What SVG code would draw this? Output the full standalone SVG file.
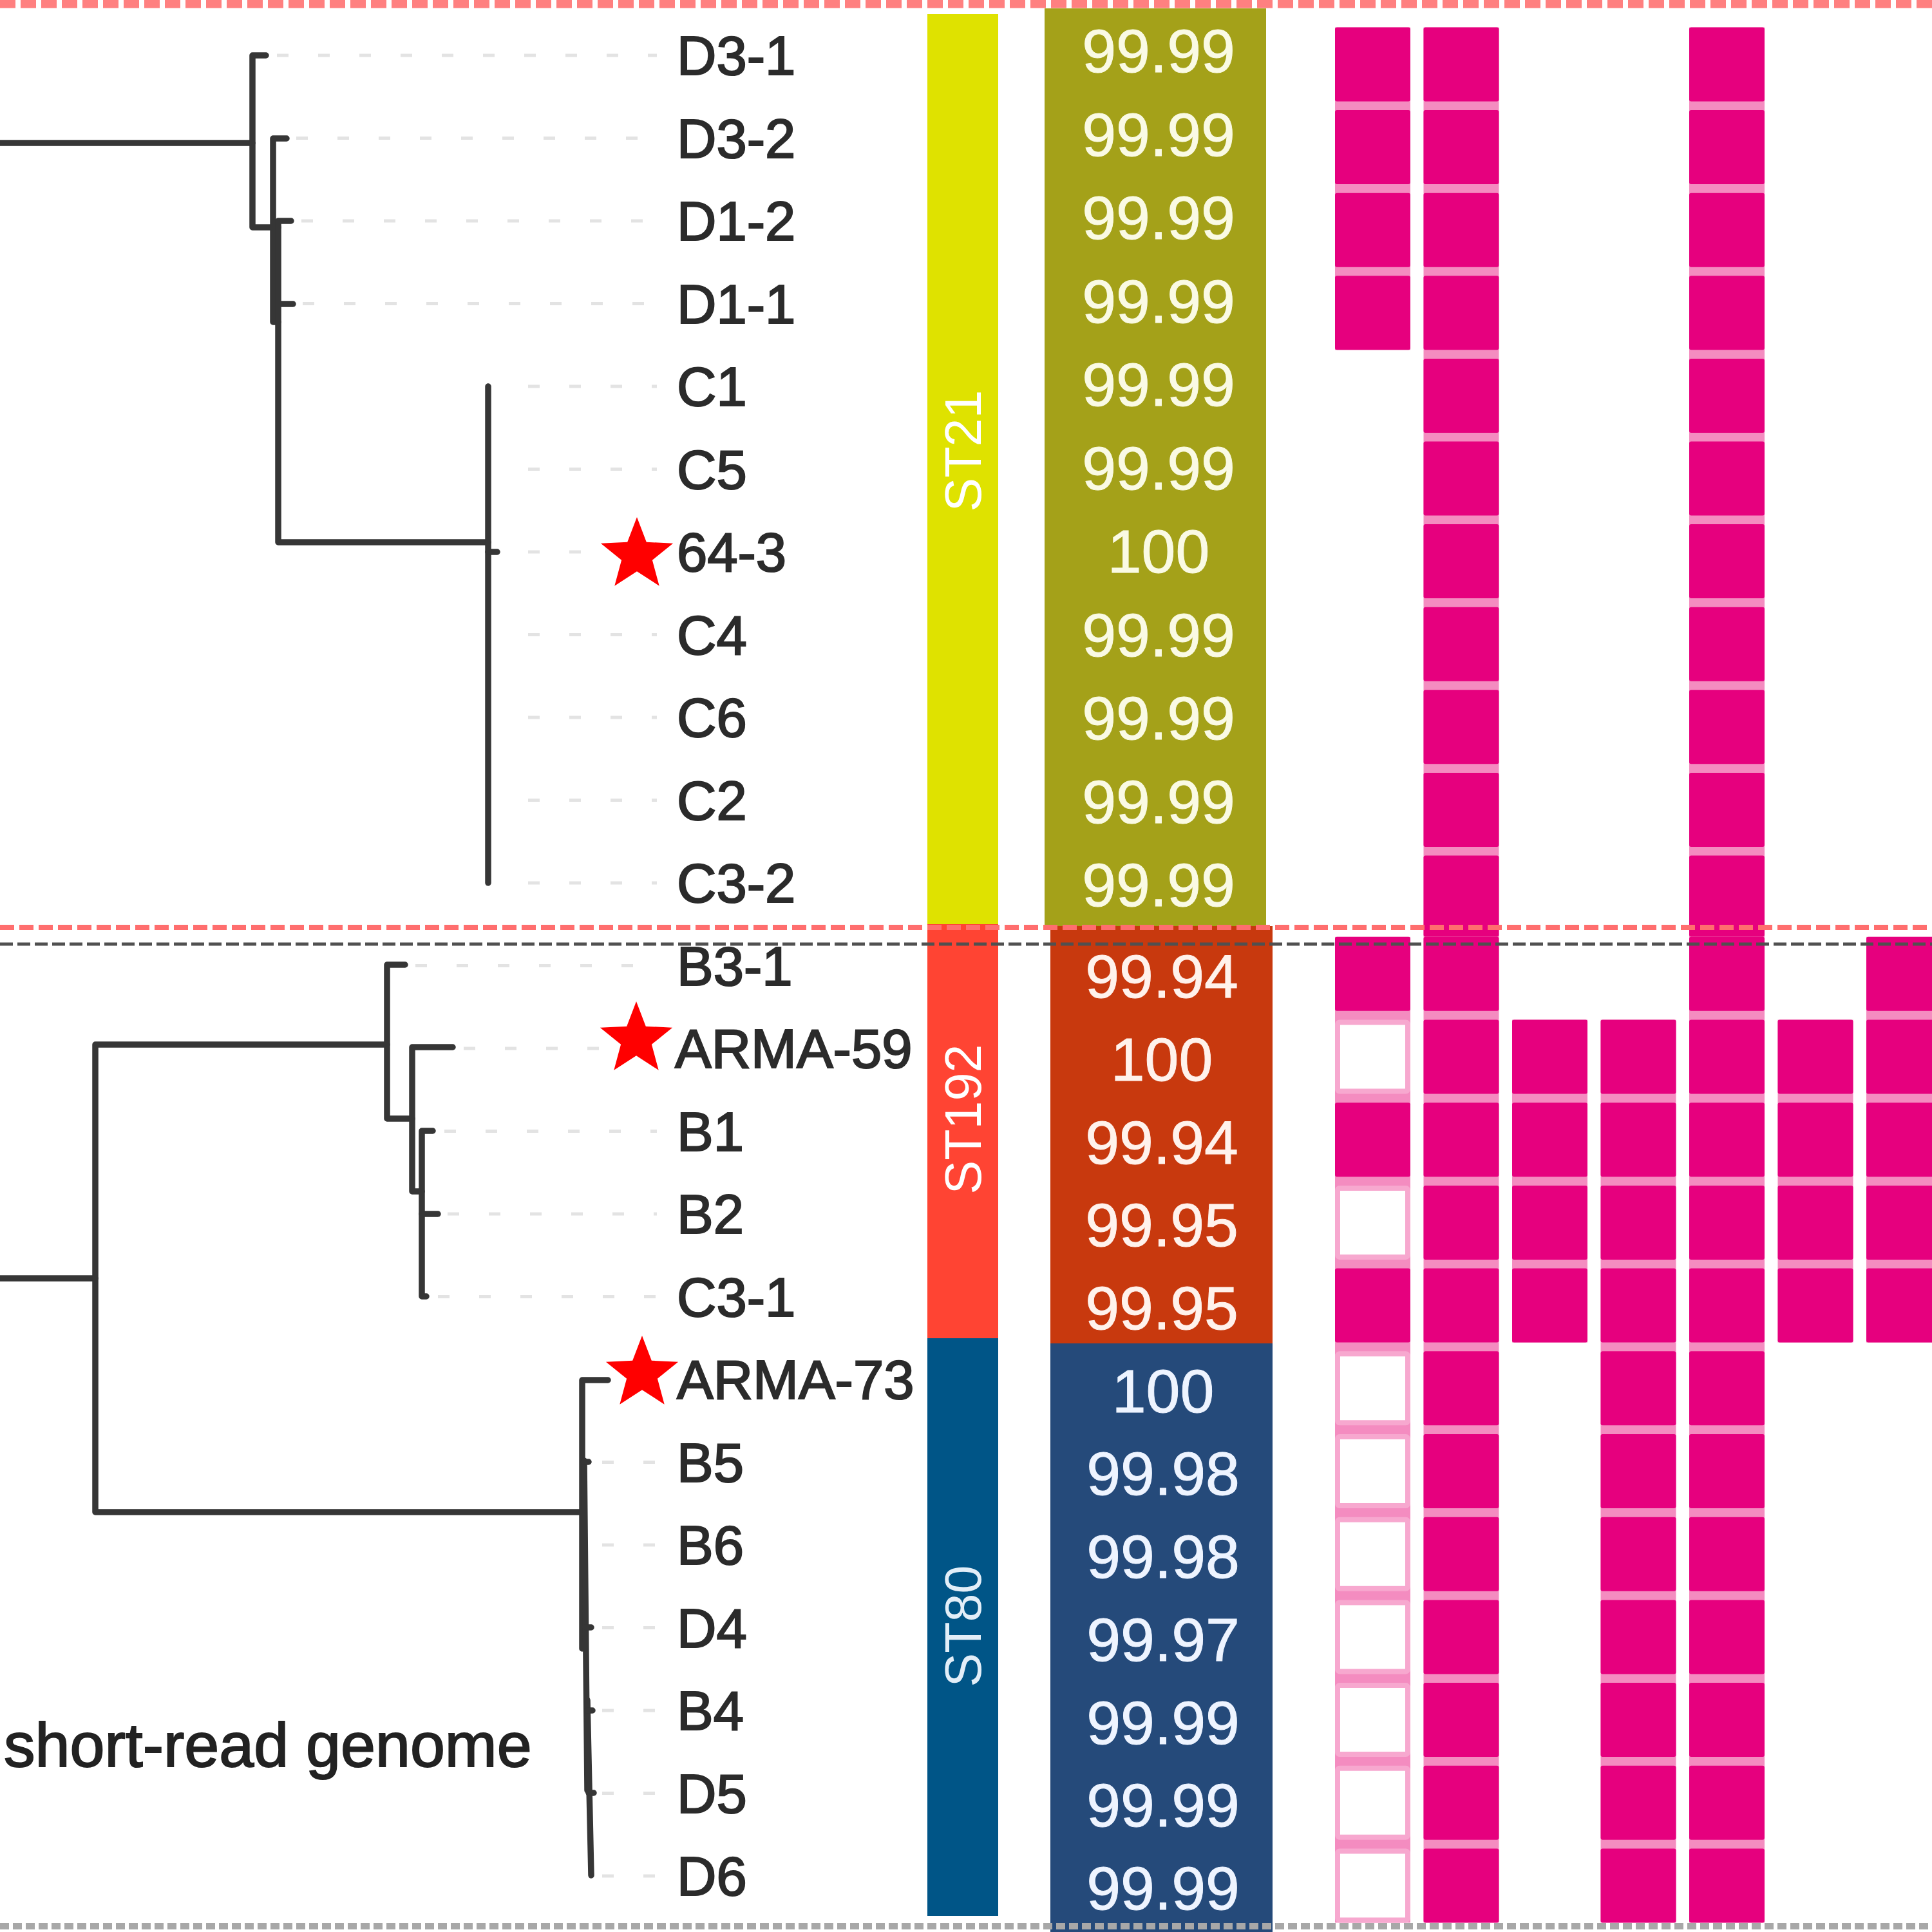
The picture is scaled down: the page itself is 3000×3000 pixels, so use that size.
<svg xmlns="http://www.w3.org/2000/svg" xmlns:xlink="http://www.w3.org/1999/xlink" width="3000" height="3000" viewBox="0 0 3000 3000">
<style>
.br{fill:none;stroke:#363636;stroke-width:9.5;stroke-linecap:round;stroke-linejoin:round}
.lead{fill:none;stroke:#e3e3e3;stroke-width:5;stroke-dasharray:18 46}
.lbl{font-family:"Liberation Sans",Arial,sans-serif;font-size:85px;fill:#2b2b2b;stroke:#2b2b2b;stroke-width:2.2}
.num{font-family:"Liberation Sans",Arial,sans-serif;font-size:95px;text-anchor:middle;stroke-width:1}
.st{font-family:"Liberation Sans",Arial,sans-serif;font-size:79px;text-anchor:middle}
.f{fill:#e6007e}
.e{fill:#ffffff;stroke:#f7a8cf;stroke-width:8}
.band{fill:#f48cc0}
.star{fill:#ff0000}
</style>
<defs>
<path id="star" d="M0,-59 L14.8,-20.3 L56.1,-18.2 L23.9,7.8 L34.7,47.7 L0,25.2 L-34.7,47.7 L-23.9,7.8 L-56.1,-18.2 L-14.8,-20.3 Z"/>
</defs>
<rect x="0" y="0" width="3000" height="3000" fill="#ffffff"/>

<g id="identity-column">
<rect x="1622" y="13" width="344" height="1425" fill="#a4a119"/>
<rect x="1631" y="1438" width="345" height="648" fill="#c8390e"/>
<rect x="1631" y="2086" width="345" height="914" fill="#254a7a"/>
</g>

<g id="st-column">
<rect x="1440" y="22" width="110" height="1413" fill="#dfe200"/>
<rect x="1440" y="1435" width="110" height="643" fill="#ff4433"/>
<rect x="1440" y="2078" width="110" height="897" fill="#005587"/>
<text class="st" transform="translate(1495,700) rotate(-90)" y="28" fill="#ffffff">ST21</text>
<text class="st" transform="translate(1495,1738) rotate(-90)" y="28" fill="#ffffff">ST192</text>
<text class="st" transform="translate(1495,2525) rotate(-90)" y="28" fill="#e2eef8">ST80</text>
</g>

<g id="tree-connectors">
<path class="br" d="M0,222 H392"/>
<path class="br" d="M413,86 H392 V353 H432"/>
<path class="br" d="M445,215 H424 V500 H432"/>
<path class="br" d="M452,343 H432 V842 H758"/>
<path class="br" d="M432,472 H455"/>
<path class="br" d="M758,600 V1371"/>
<path class="br" d="M758,857 H772"/>
<path class="br" d="M0,1985 H148"/>
<path class="br" d="M601,1622 H148 V2348 H904"/>
<path class="br" d="M629,1498 H601 V1737 H640"/>
<path class="br" d="M703,1626 H640 V1850 H655"/>
<path class="br" d="M672,1756 H655 V2013 H662"/>
<path class="br" d="M655,1885 H680"/>
<path class="br" d="M944,2143 H904 V2560"/>
<path class="br" d="M907,2268 L912,2780"/>
<path class="br" d="M912,2640 L918,2912"/>
<path class="br" d="M906,2270 H914 M910,2527 H918 M912,2656 H920 M914,2784 H922"/>
</g>

<g id="leaders">
<path class="lead" d="M430,86 H1020 M460,214.5 H1020 M468,343 H1020 M470,471.5 H1020 M820,600 H1020 M820,728.5 H1020 M820,857 H940 M820,985.5 H1020 M820,1114 H1020 M820,1242.5 H1020 M820,1371 H1020 M645,1499.5 H1020 M720,1628 H930 M690,1756.5 H1020 M695,1885 H1020 M680,2013.5 H1020 M935,2270.5 H1020 M935,2399 H1020 M935,2527.5 H1020 M935,2656 H1020 M935,2784.5 H1020 M935,2913 H1020"/>
</g>

<g id="leaf-D3-1"><text class="lbl" x="1051" y="116">D3-1</text></g>
<g id="leaf-D3-2"><text class="lbl" x="1051" y="244.5">D3-2</text></g>
<g id="leaf-D1-2"><text class="lbl" x="1051" y="373">D1-2</text></g>
<g id="leaf-D1-1"><text class="lbl" x="1051" y="501.5">D1-1</text></g>
<g id="leaf-C1"><text class="lbl" x="1051" y="630">C1</text></g>
<g id="leaf-C5"><text class="lbl" x="1051" y="758.5">C5</text></g>
<g id="leaf-64-3"><use href="#star" class="star" x="989" y="862"/><text class="lbl" x="1051" y="887">64-3</text></g>
<g id="leaf-C4"><text class="lbl" x="1051" y="1015.5">C4</text></g>
<g id="leaf-C6"><text class="lbl" x="1051" y="1144">C6</text></g>
<g id="leaf-C2"><text class="lbl" x="1051" y="1272.5">C2</text></g>
<g id="leaf-C3-2"><text class="lbl" x="1051" y="1401">C3-2</text></g>
<g id="leaf-B3-1"><text class="lbl" x="1051" y="1529.5">B3-1</text></g>
<g id="leaf-ARMA-59"><use href="#star" class="star" x="988" y="1614"/><text class="lbl" x="1048" y="1658">ARMA-59</text></g>
<g id="leaf-B1"><text class="lbl" x="1051" y="1786.5">B1</text></g>
<g id="leaf-B2"><text class="lbl" x="1051" y="1915">B2</text></g>
<g id="leaf-C3-1"><text class="lbl" x="1051" y="2043.5">C3-1</text></g>
<g id="leaf-ARMA-73"><use href="#star" class="star" x="997" y="2133"/><text class="lbl" x="1051" y="2172">ARMA-73</text></g>
<g id="leaf-B5"><text class="lbl" x="1051" y="2300.5">B5</text></g>
<g id="leaf-B6"><text class="lbl" x="1051" y="2429">B6</text></g>
<g id="leaf-D4"><text class="lbl" x="1051" y="2557.5">D4</text></g>
<g id="leaf-B4"><text class="lbl" x="1051" y="2686">B4</text></g>
<g id="leaf-D5"><text class="lbl" x="1051" y="2814.5">D5</text></g>
<g id="leaf-D6"><text class="lbl" x="1051" y="2943">D6</text></g>

<g id="identity-values">
<g fill="#fafae4" stroke="#fafae4">
<text class="num" x="1799" y="112">99.99</text>
<text class="num" x="1799" y="241.5">99.99</text>
<text class="num" x="1799" y="371">99.99</text>
<text class="num" x="1799" y="500.5">99.99</text>
<text class="num" x="1799" y="630">99.99</text>
<text class="num" x="1799" y="759.5">99.99</text>
<text class="num" x="1799" y="889">100</text>
<text class="num" x="1799" y="1018.5">99.99</text>
<text class="num" x="1799" y="1148">99.99</text>
<text class="num" x="1799" y="1277.5">99.99</text>
<text class="num" x="1799" y="1407">99.99</text>
</g>
<g fill="#fff2ec" stroke="#fff2ec">
<text class="num" x="1804" y="1549">99.94</text>
<text class="num" x="1804" y="1678">100</text>
<text class="num" x="1804" y="1807">99.94</text>
<text class="num" x="1804" y="1935">99.95</text>
<text class="num" x="1804" y="2064">99.95</text>
</g>
<g fill="#eef4ff" stroke="#eef4ff">
<text class="num" x="1806" y="2193">100</text>
<text class="num" x="1806" y="2321">99.98</text>
<text class="num" x="1806" y="2450">99.98</text>
<text class="num" x="1806" y="2579">99.97</text>
<text class="num" x="1806" y="2708">99.99</text>
<text class="num" x="1806" y="2836">99.99</text>
<text class="num" x="1806" y="2965">99.99</text>
</g>
</g>

<g id="presence-grid">
<rect class="band" x="2073" y="42.5" width="117" height="500.8"/>
<rect class="band" x="2073" y="1454.8" width="117" height="1530.7"/>
<rect class="band" x="2210.5" y="42.5" width="117" height="2943"/>
<rect class="band" x="2348" y="1583.5" width="117" height="501.1"/>
<rect class="band" x="2485.5" y="1583.5" width="117" height="1402"/>
<rect class="band" x="2623" y="42.5" width="117" height="2943"/>
<rect class="band" x="2760.5" y="1583.5" width="117" height="501.1"/>
<rect class="band" x="2898" y="1454.8" width="117" height="629.8"/>

<g id="col-0">
<rect class="f" x="2073" y="42.5" width="117" height="115" rx="3"/>
<rect class="f" x="2073" y="171.1" width="117" height="115" rx="3"/>
<rect class="f" x="2073" y="299.7" width="117" height="115" rx="3"/>
<rect class="f" x="2073" y="428.3" width="117" height="115" rx="3"/>
<rect class="f" x="2073" y="1454.8" width="117" height="115" rx="3"/>
<rect class="e" x="2077" y="1587.5" width="109" height="107" rx="3"/>
<rect class="f" x="2073" y="1712.2" width="117" height="115" rx="3"/>
<rect class="e" x="2077" y="1844.9" width="109" height="107" rx="3"/>
<rect class="f" x="2073" y="1969.6" width="117" height="115" rx="3"/>
<rect class="e" x="2077" y="2102.3" width="109" height="107" rx="3"/>
<rect class="e" x="2077" y="2231" width="109" height="107" rx="3"/>
<rect class="e" x="2077" y="2359.7" width="109" height="107" rx="3"/>
<rect class="e" x="2077" y="2488.4" width="109" height="107" rx="3"/>
<rect class="e" x="2077" y="2617.1" width="109" height="107" rx="3"/>
<rect class="e" x="2077" y="2745.8" width="109" height="107" rx="3"/>
<rect class="e" x="2077" y="2874.5" width="109" height="107" rx="3"/>
</g>
<g id="col-1">
<rect class="f" x="2210.5" y="42.5" width="117" height="115" rx="3"/>
<rect class="f" x="2210.5" y="171.1" width="117" height="115" rx="3"/>
<rect class="f" x="2210.5" y="299.7" width="117" height="115" rx="3"/>
<rect class="f" x="2210.5" y="428.3" width="117" height="115" rx="3"/>
<rect class="f" x="2210.5" y="556.9" width="117" height="115" rx="3"/>
<rect class="f" x="2210.5" y="685.5" width="117" height="115" rx="3"/>
<rect class="f" x="2210.5" y="814.1" width="117" height="115" rx="3"/>
<rect class="f" x="2210.5" y="942.7" width="117" height="115" rx="3"/>
<rect class="f" x="2210.5" y="1071.3" width="117" height="115" rx="3"/>
<rect class="f" x="2210.5" y="1199.9" width="117" height="115" rx="3"/>
<rect class="f" x="2210.5" y="1328.5" width="117" height="126" rx="3"/>
<rect class="f" x="2210.5" y="1454.8" width="117" height="115" rx="3"/>
<rect class="f" x="2210.5" y="1583.5" width="117" height="115" rx="3"/>
<rect class="f" x="2210.5" y="1712.2" width="117" height="115" rx="3"/>
<rect class="f" x="2210.5" y="1840.9" width="117" height="115" rx="3"/>
<rect class="f" x="2210.5" y="1969.6" width="117" height="115" rx="3"/>
<rect class="f" x="2210.5" y="2098.3" width="117" height="115" rx="3"/>
<rect class="f" x="2210.5" y="2227" width="117" height="115" rx="3"/>
<rect class="f" x="2210.5" y="2355.7" width="117" height="115" rx="3"/>
<rect class="f" x="2210.5" y="2484.4" width="117" height="115" rx="3"/>
<rect class="f" x="2210.5" y="2613.1" width="117" height="115" rx="3"/>
<rect class="f" x="2210.5" y="2741.8" width="117" height="115" rx="3"/>
<rect class="f" x="2210.5" y="2870.5" width="117" height="115" rx="3"/>
</g>
<g id="col-2">
<rect class="f" x="2348" y="1583.5" width="117" height="115" rx="3"/>
<rect class="f" x="2348" y="1712.2" width="117" height="115" rx="3"/>
<rect class="f" x="2348" y="1840.9" width="117" height="115" rx="3"/>
<rect class="f" x="2348" y="1969.6" width="117" height="115" rx="3"/>
</g>
<g id="col-3">
<rect class="f" x="2485.5" y="1583.5" width="117" height="115" rx="3"/>
<rect class="f" x="2485.5" y="1712.2" width="117" height="115" rx="3"/>
<rect class="f" x="2485.5" y="1840.9" width="117" height="115" rx="3"/>
<rect class="f" x="2485.5" y="1969.6" width="117" height="115" rx="3"/>
<rect class="f" x="2485.5" y="2098.3" width="117" height="115" rx="3"/>
<rect class="f" x="2485.5" y="2227" width="117" height="115" rx="3"/>
<rect class="f" x="2485.5" y="2355.7" width="117" height="115" rx="3"/>
<rect class="f" x="2485.5" y="2484.4" width="117" height="115" rx="3"/>
<rect class="f" x="2485.5" y="2613.1" width="117" height="115" rx="3"/>
<rect class="f" x="2485.5" y="2741.8" width="117" height="115" rx="3"/>
<rect class="f" x="2485.5" y="2870.5" width="117" height="115" rx="3"/>
</g>
<g id="col-4">
<rect class="f" x="2623" y="42.5" width="117" height="115" rx="3"/>
<rect class="f" x="2623" y="171.1" width="117" height="115" rx="3"/>
<rect class="f" x="2623" y="299.7" width="117" height="115" rx="3"/>
<rect class="f" x="2623" y="428.3" width="117" height="115" rx="3"/>
<rect class="f" x="2623" y="556.9" width="117" height="115" rx="3"/>
<rect class="f" x="2623" y="685.5" width="117" height="115" rx="3"/>
<rect class="f" x="2623" y="814.1" width="117" height="115" rx="3"/>
<rect class="f" x="2623" y="942.7" width="117" height="115" rx="3"/>
<rect class="f" x="2623" y="1071.3" width="117" height="115" rx="3"/>
<rect class="f" x="2623" y="1199.9" width="117" height="115" rx="3"/>
<rect class="f" x="2623" y="1328.5" width="117" height="126" rx="3"/>
<rect class="f" x="2623" y="1454.8" width="117" height="115" rx="3"/>
<rect class="f" x="2623" y="1583.5" width="117" height="115" rx="3"/>
<rect class="f" x="2623" y="1712.2" width="117" height="115" rx="3"/>
<rect class="f" x="2623" y="1840.9" width="117" height="115" rx="3"/>
<rect class="f" x="2623" y="1969.6" width="117" height="115" rx="3"/>
<rect class="f" x="2623" y="2098.3" width="117" height="115" rx="3"/>
<rect class="f" x="2623" y="2227" width="117" height="115" rx="3"/>
<rect class="f" x="2623" y="2355.7" width="117" height="115" rx="3"/>
<rect class="f" x="2623" y="2484.4" width="117" height="115" rx="3"/>
<rect class="f" x="2623" y="2613.1" width="117" height="115" rx="3"/>
<rect class="f" x="2623" y="2741.8" width="117" height="115" rx="3"/>
<rect class="f" x="2623" y="2870.5" width="117" height="115" rx="3"/>
</g>
<g id="col-5">
<rect class="f" x="2760.5" y="1583.5" width="117" height="115" rx="3"/>
<rect class="f" x="2760.5" y="1712.2" width="117" height="115" rx="3"/>
<rect class="f" x="2760.5" y="1840.9" width="117" height="115" rx="3"/>
<rect class="f" x="2760.5" y="1969.6" width="117" height="115" rx="3"/>
</g>
<g id="col-6">
<rect class="f" x="2898" y="1454.8" width="117" height="115" rx="3"/>
<rect class="f" x="2898" y="1583.5" width="117" height="115" rx="3"/>
<rect class="f" x="2898" y="1712.2" width="117" height="115" rx="3"/>
<rect class="f" x="2898" y="1840.9" width="117" height="115" rx="3"/>
<rect class="f" x="2898" y="1969.6" width="117" height="115" rx="3"/>
</g>
</g>

<g id="caption">
<text x="6" y="2743" font-family="'Liberation Sans',Arial,sans-serif" font-size="97" fill="#222222" stroke="#222222" stroke-width="2">short-read genome</text>
</g>

<g id="separators">
<line x1="0" y1="6" x2="3000" y2="6" stroke="#ff8080" stroke-width="13" stroke-dasharray="24 8"/>
<line x1="0" y1="1440" x2="3000" y2="1440" stroke="#ff6e6e" stroke-width="8" stroke-dasharray="22 8"/>
<line x1="0" y1="1466" x2="3000" y2="1466" stroke="#505050" stroke-width="5" stroke-dasharray="20 7"/>
<line x1="0" y1="2991" x2="3000" y2="2991" stroke="#a8a8a8" stroke-width="10" stroke-dasharray="14 6"/>
</g>
</svg>
